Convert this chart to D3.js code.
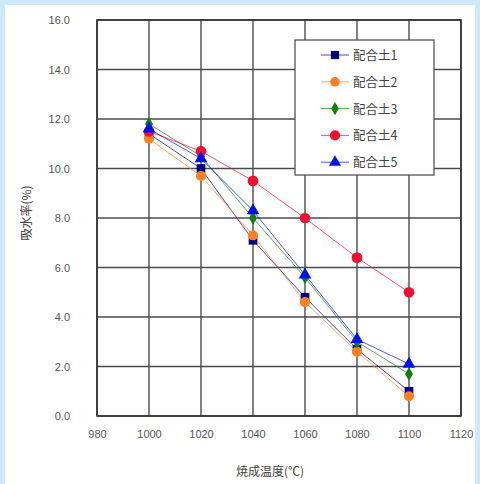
<!DOCTYPE html>
<html><head><meta charset="utf-8">
<script src="https://cdn.jsdelivr.net/npm/d3@7"></script>
<style>
html,body{margin:0;padding:0;background:#cde9fb;}
svg{display:block;}
</style></head>
<body>
<svg id="c" width="480" height="484"></svg>
<script>
const temps = [1000, 1020, 1040, 1060, 1080, 1100];
const seriesNames = ["配合土1", "配合土2", "配合土3", "配合土4", "配合土5"];
const s1 = [11.4, 10.0, 7.1, 4.8, 2.7, 1.0];
const s2 = [11.2, 9.7, 7.3, 4.6, 2.6, 0.8];
const s3 = [11.8, 10.5, 8.0, 5.6, 3.0, 1.7];
const s4 = [11.5, 10.7, 9.5, 8.0, 6.4, 5.0];
const s5 = [11.6, 10.4, 8.3, 5.7, 3.1, 2.1];
const xTicks = [980, 1000, 1020, 1040, 1060, 1080, 1100, 1120];
const yTicks = [0, 2, 4, 6, 8, 10, 12, 14, 16];
const colors = ["#000080", "#ff8020", "#108010", "#f01030", "#0010f0"];
const shapes = [d3.symbolSquare, d3.symbolCircle, d3.symbolDiamond, d3.symbolCircle, d3.symbolTriangle];
const sizes = [75, 80, 55, 90, 70];
const allSeries = [s1, s2, s3, s4, s5];

const svg = d3.select("#c");
svg.append("rect").attr("x",5).attr("y",5).attr("width",470).attr("height",479).attr("fill","#fff");

const L=97, R=461, T=20, B=416;
const x = d3.scaleLinear().domain([980,1120]).range([L,R]);
const y = d3.scaleLinear().domain([0,16]).range([B,T]);

const g = svg.append("g");
g.selectAll(".gx").data(xTicks).enter().append("line")
  .attr("x1",d=>x(d)).attr("x2",d=>x(d)).attr("y1",T).attr("y2",B)
  .attr("stroke","#4a4a4a").attr("stroke-width",1.4);
g.selectAll(".gy").data(yTicks).enter().append("line")
  .attr("y1",d=>y(d)).attr("y2",d=>y(d)).attr("x1",L).attr("x2",R)
  .attr("stroke","#4a4a4a").attr("stroke-width",1.4);
g.append("rect").attr("x",L).attr("y",T).attr("width",R-L).attr("height",B-T)
  .attr("fill","none").attr("stroke","#333").attr("stroke-width",1.6);

const xAxis = d3.axisBottom(x).tickValues(xTicks).tickSize(0).tickPadding(14).tickFormat(d3.format("d"));
const yAxis = d3.axisLeft(y).tickValues(yTicks).tickSize(0).tickPadding(27).tickFormat(d3.format(".1f"));
const ax = svg.append("g").attr("transform",`translate(0,${B})`).call(xAxis);
const ay = svg.append("g").attr("transform",`translate(${L},0)`).call(yAxis);
[ax,ay].forEach(a=>{
  a.select(".domain").remove();
  a.selectAll("text").attr("fill","#555").attr("font-size","11px").attr("font-family","Arial, 'Liberation Sans', sans-serif");
});

svg.append("text").attr("x",270).attr("y",476).attr("text-anchor","middle")
  .attr("font-size","12px").attr("fill","#444").attr("font-family","'Noto Sans CJK JP', sans-serif").text("焼成温度(℃)");
svg.append("text").attr("transform","translate(31,213) rotate(-90)").attr("text-anchor","middle")
  .attr("font-size","12px").attr("fill","#444").attr("font-family","'Noto Sans CJK JP', sans-serif").text("吸水率(%)");

const line = d3.line().x((d,i)=>x(temps[i])).y(d=>y(d));
allSeries.forEach((s,k)=>{
  svg.append("path").datum(s).attr("d",line).attr("fill","none")
    .attr("stroke",colors[k]).attr("stroke-width",1).attr("stroke-opacity",0.7);
});
allSeries.forEach((s,k)=>{
  svg.selectAll(".m"+k).data(s).enter().append("path")
    .attr("transform",(d,i)=>`translate(${x(temps[i])},${y(d)})`)
    .attr("d",d3.symbol().type(shapes[k]).size(sizes[k]))
    .attr("fill",colors[k]);
});

const lg = svg.append("g");
lg.append("rect").attr("x",295).attr("y",40).attr("width",139).attr("height",135)
  .attr("fill","#fff").attr("stroke","#555").attr("stroke-width",1.3);
seriesNames.forEach((n,k)=>{
  const yy = 55 + k*26.8;
  lg.append("line").attr("x1",321).attr("x2",349).attr("y1",yy).attr("y2",yy)
    .attr("stroke",colors[k]).attr("stroke-width",1).attr("stroke-opacity",0.7);
  lg.append("path").attr("transform",`translate(335,${yy})`)
    .attr("d",d3.symbol().type(shapes[k]).size(sizes[k]*0.9)).attr("fill",colors[k]);
  lg.append("text").attr("x",353).attr("y",yy+5).attr("font-size","12.5px").attr("fill","#444")
    .attr("font-family","'Noto Sans CJK JP', sans-serif").text(n);
});
</script>
</body></html>
